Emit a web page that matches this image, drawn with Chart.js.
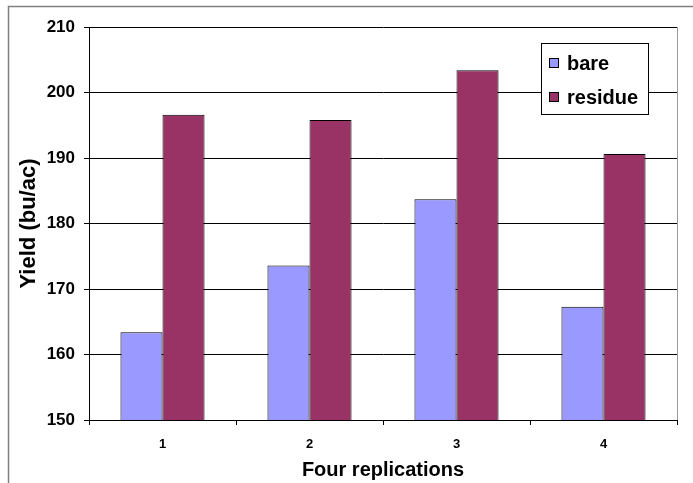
<!DOCTYPE html>
<html>
<head>
<meta charset="utf-8">
<script src="https://cdn.jsdelivr.net/npm/chart.js@4/dist/chart.umd.min.js"></script>
<style>
html,body{margin:0;padding:0;background:#fff;}
canvas{display:block;}
</style>
</head>
<body>
<canvas id="c" width="693" height="483"></canvas>
<script>
const categories = ["1", "2", "3", "4"];
const bareValues = [163.4, 173.6, 183.7, 167.3];
const residueValues = [196.6, 195.8, 203.4, 190.6];
const seriesNames = ["bare", "residue"];
const yTickMin = 150, yTickMax = 210, yTickStep = 10;
const xTitle = "Four replications";
const yTitle = "Yield (bu/ac)";

const FONT = "'Liberation Sans', Arial, sans-serif";

const framePlugin = {
  id: 'frame',
  beforeDraw(chart) {
    const ctx = chart.ctx;
    ctx.save();
    ctx.fillStyle = '#fff';
    ctx.fillRect(0, 0, chart.width, chart.height);
    ctx.strokeStyle = '#808080';
    ctx.lineWidth = 1.5;
    ctx.strokeRect(8.5, 6.5, chart.width + 20, chart.height + 20);
    ctx.restore();
  },
  afterDatasetsDraw(chart) {
    const ctx = chart.ctx;
    const a = chart.chartArea;
    ctx.save();
    ctx.strokeStyle = '#999';
    ctx.lineWidth = 1;
    ctx.beginPath();
    ctx.moveTo(Math.round(a.right) + 0.5, a.top);
    ctx.lineTo(Math.round(a.right) + 0.5, a.bottom);
    ctx.stroke();
    ctx.restore();
  },
  afterDraw(chart) {
    const ctx = chart.ctx;
    ctx.save();
    const bx = 541.5, by = 43.5, bw = 107, bh = 71;
    ctx.fillStyle = '#fff';
    ctx.fillRect(bx, by, bw, bh);
    ctx.strokeStyle = '#000';
    ctx.lineWidth = 1;
    ctx.strokeRect(bx, by, bw, bh);
    ctx.font = "bold 20px " + FONT;
    ctx.textBaseline = 'middle';
    ctx.textAlign = 'left';
    chart.data.datasets.forEach((ds, i) => {
      const cy = 63 + i * 34;
      ctx.fillStyle = ds.backgroundColor;
      ctx.fillRect(549.5, cy - 4.5, 9, 9);
      ctx.strokeStyle = '#000';
      ctx.strokeRect(549.5, cy - 4.5, 9, 9);
      ctx.fillStyle = '#000';
      ctx.fillText(ds.label, 567, cy + 1);
    });
    ctx.restore();
  }
};

new Chart(document.getElementById('c'), {
  type: 'bar',
  data: {
    labels: categories,
    datasets: [
      { label: seriesNames[0], data: bareValues, backgroundColor: '#9999FF', borderColor: '#000', borderWidth: 1 },
      { label: seriesNames[1], data: residueValues, backgroundColor: '#993366', borderColor: '#000', borderWidth: 1 }
    ]
  },
  options: {
    responsive: false,
    animation: false,
    events: [],
    layout: { padding: { left: 0, right: 16, top: 27, bottom: 0 } },
    datasets: { bar: { categoryPercentage: 0.572, barPercentage: 1.0 } },
    plugins: { legend: { display: false }, tooltip: { enabled: false } },
    scales: {
      x: {
        afterFit(s) { s.height = 63; },
        grid: { offset: true, drawOnChartArea: false, drawTicks: true, tickLength: 5, color: '#000' },
        border: { color: '#000', width: 1 },
        ticks: { color: '#000', font: { family: FONT, size: 13, weight: 'bold' }, padding: 12 },
        title: { display: true, text: xTitle, color: '#000', font: { family: FONT, size: 20, weight: 'bold' }, padding: { top: 0, bottom: 1 } }
      },
      y: {
        min: yTickMin, max: yTickMax,
        afterFit(s) { s.width = 89; },
        grid: { color: '#000', lineWidth: 1, tickLength: 5 },
        border: { color: '#000', width: 1 },
        ticks: { stepSize: yTickStep, color: '#000', font: { family: FONT, size: 17, weight: 'bold' }, padding: 9 },
        title: { display: true, text: yTitle, color: '#000', font: { family: FONT, size: 22, weight: 'bold' }, padding: { top: 16, bottom: 0 } }
      }
    }
  },
  plugins: [framePlugin]
});
</script>
</body>
</html>
